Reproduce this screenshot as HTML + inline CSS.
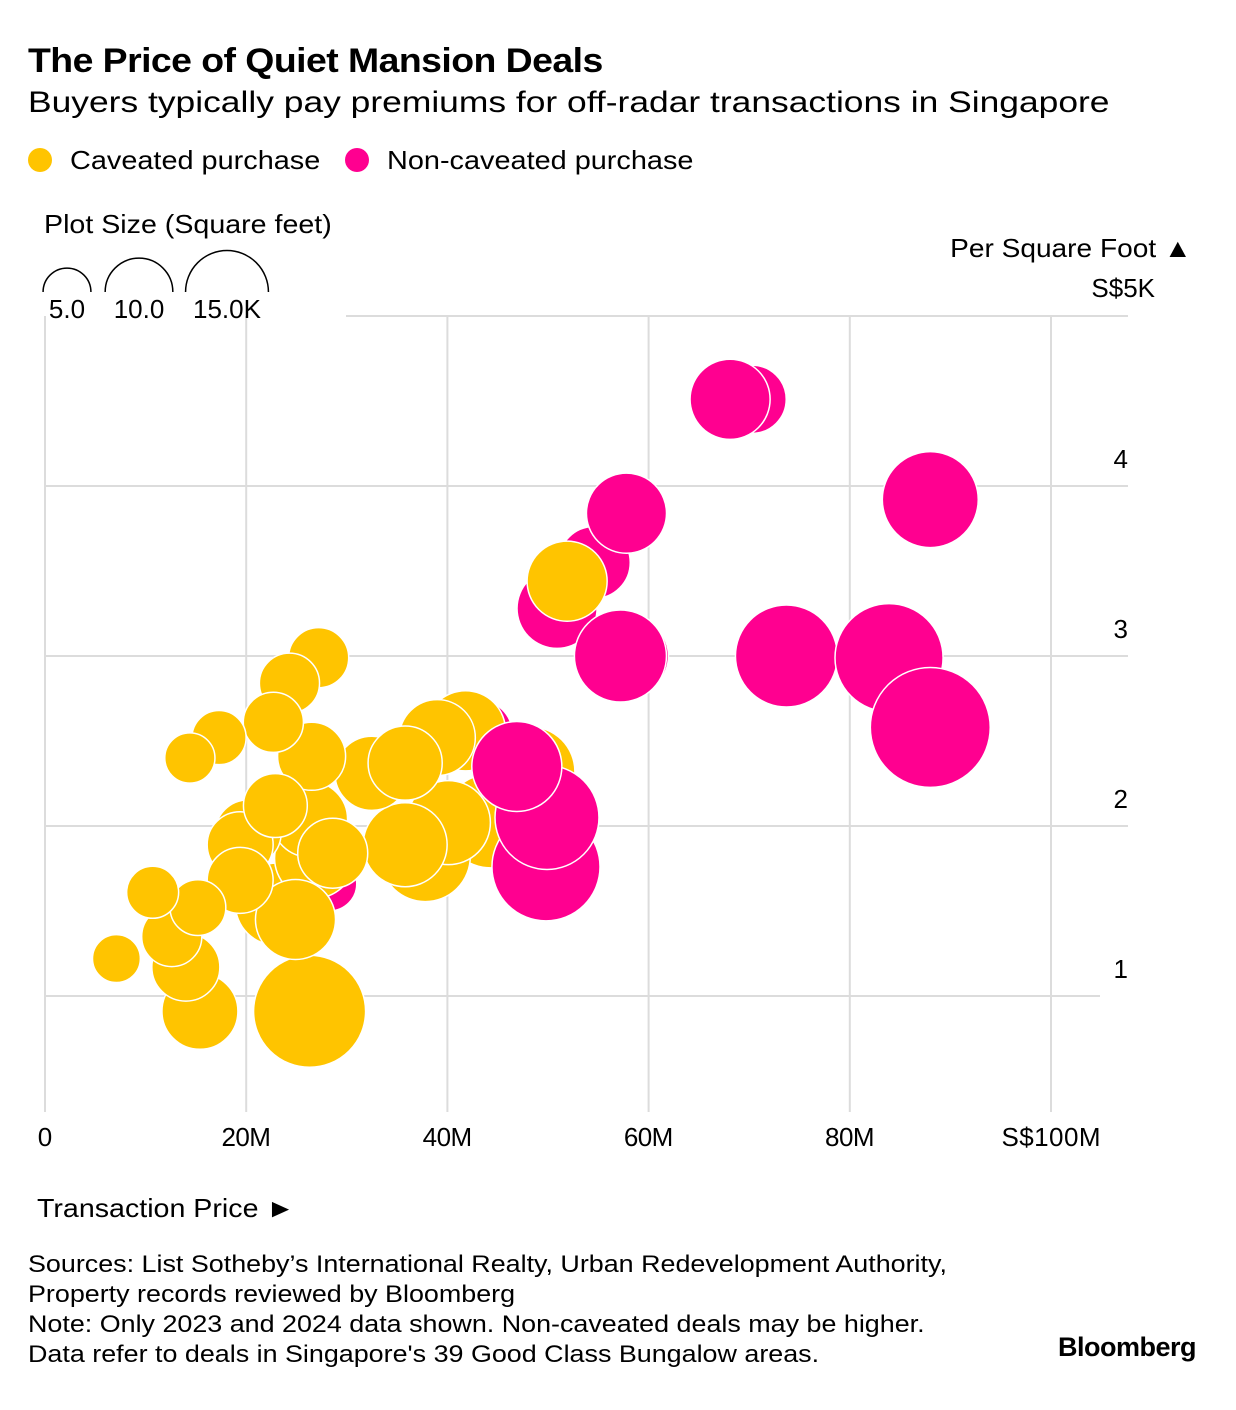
<!DOCTYPE html>
<html><head><meta charset="utf-8"><style>
body{margin:0;background:#fff;font-family:"Liberation Sans",sans-serif;color:#000}
#wrap{position:relative;width:1236px;height:1410px;overflow:hidden}
.t{position:absolute;white-space:nowrap;transform-origin:0 0}
.r{transform-origin:100% 0}
</style></head><body>
<div id="wrap">
<div class="t" style="left:28px;top:42px;font-size:34px;font-weight:bold;letter-spacing:-0.5px;transform:scaleX(1.1)">The Price of Quiet Mansion Deals</div>
<div class="t" style="left:28px;top:86px;font-size:30px;transform:scaleX(1.18)">Buyers typically pay premiums for off-radar transactions in Singapore</div>
<div class="t" style="left:28px;top:145px;font-size:26px"><span style="display:inline-block;width:24px;height:24px;border-radius:50%;background:#ffc400;vertical-align:-3px;margin-right:18px"></span><span style="display:inline-block;transform:scaleX(1.11);transform-origin:0 0">Caveated purchase</span></div>
<div class="t" style="left:345px;top:145px;font-size:26px"><span style="display:inline-block;width:24px;height:24px;border-radius:50%;background:#ff0090;vertical-align:-3px;margin-right:18px"></span><span style="display:inline-block;transform:scaleX(1.11);transform-origin:0 0">Non-caveated purchase</span></div>
<div class="t" style="left:44px;top:209px;font-size:26px;transform:scaleX(1.1)">Plot Size (Square feet)</div>
<div class="t r" style="right:44px;top:233px;font-size:26px;transform:scaleX(1.08)">Per Square Foot ▲</div>
<div class="t" style="left:37px;top:1193px;font-size:26px;transform:scaleX(1.1)">Transaction Price ►</div>
<div class="t" style="left:28px;top:1250px;font-size:24px;line-height:30px;transform:scaleX(1.12)">Sources: List Sotheby’s International Realty, Urban Redevelopment Authority,<br>Property records reviewed by Bloomberg<br>Note: Only 2023 and 2024 data shown. Non-caveated deals may be higher.<br>Data refer to deals in Singapore's 39 Good Class Bungalow areas.</div>
<div class="t r" style="right:40px;top:1332px;font-size:27px;font-weight:bold;letter-spacing:-0.5px">Bloomberg</div>
<svg id="svg" width="1236" height="1410" style="position:absolute;left:0;top:0"></svg>
</div>
<script>
const xTicks=[0,20,40,60,80,100];
const xTickLabels=["0","20M","40M","60M","80M","S$100M"];
const yTicks=[1,2,3,4,5];
const yTickLabels=["1","2","3","4","S$5K"];
const sizeLegend=[5,10,15];
const sizeLegendLabels=["5.0","10.0","15.0K"];
const pinkPrice=[70.3,68.1,88.0,57.8,54.6,50.9,58.0,57.2,73.7,83.9,88.0,43.0,46.9,49.9,49.8,28.3];
const pinkPsf=[4.51,4.51,3.92,3.84,3.55,3.28,3.0,3.0,3.0,2.99,2.58,2.54,2.35,2.05,1.76,1.66];
const pinkSize=[10.1,14.0,20.1,14.0,11.3,14.0,14.0,18.5,22.7,25.5,31.4,10.7,17.7,23.6,25.5,6.4];
const yelPrice=[51.9,27.2,24.3,22.7,17.3,14.4,26.5,32.5,35.8,39.0,41.8,48.2,44.3,40.1,37.8,35.8,26.3,22.9,20.2,19.4,26.8,28.6,19.4,15.2,10.7,12.6,14.0,15.4,7.1,23.0,24.9,26.3];
const yelPsf=[3.44,2.99,2.84,2.61,2.52,2.40,2.41,2.31,2.37,2.52,2.56,2.32,2.03,2.02,1.82,1.89,2.04,2.12,1.96,1.89,1.81,1.84,1.68,1.52,1.61,1.35,1.17,0.91,1.22,1.54,1.45,0.91];
const yelSize=[14.0,7.9,7.9,7.9,6.4,5.5,10.1,12.0,12.0,12.6,14.0,17.7,19.3,15.4,17.7,15.4,12.6,8.9,9.5,9.5,14.0,10.7,9.5,6.8,5.9,7.9,10.1,12.6,5.0,14.7,14.0,27.4];

const NS="http://www.w3.org/2000/svg";
const svg=document.getElementById('svg');
const X=v=>45+v*10.06;
const Y=v=>996-(v-1)*170;
const R=s=>10.7*Math.sqrt(s);
function mk(tag,attrs){const e=document.createElementNS(NS,tag);for(const k in attrs)e.setAttribute(k,attrs[k]);svg.appendChild(e);return e;}
xTicks.forEach((t,i)=>{
  const l=mk('line',{x1:X(t),x2:X(t),y1:316,y2:1112,stroke:'#dcdcdc','stroke-width':2});
  
  
  const tx=mk('text',{x:X(t),y:1146,'font-size':26,'text-anchor':'middle','font-family':'Liberation Sans, sans-serif',textLength:xTickLabels[i].length>1?xTickLabels[i].length*16.5:16});
  tx.textContent=xTickLabels[i];
  
  
});
yTicks.forEach((t,i)=>{
  const l=mk('line',{x1:t===5?346:45,x2:t===1?1100:1128,y1:Y(t),y2:Y(t),stroke:'#dcdcdc','stroke-width':2});
  
  
  const tx=mk('text',{x:t===5?1155:1128,y:t===5?Y(t)-19:Y(t)-18,'font-size':26,'text-anchor':'end','font-family':'Liberation Sans, sans-serif'});
  tx.textContent=yTickLabels[i];
  
  
});
const back=[],front=[],yel=[];
pinkPrice.forEach((p,i)=>{const d={x:pinkPrice[i],y:pinkPsf[i],s:pinkSize[i],c:'#ff0090',n:'bubble-non-caveated'};(d.s>=17&&d.x<60?front:back).push(d);});
yelPrice.forEach((p,i)=>yel.push({x:yelPrice[i],y:yelPsf[i],s:yelSize[i],c:'#ffc400',n:'bubble-caveated'}));
back.sort((a,b)=>a.s-b.s);
yel.sort((a,b)=>b.s-a.s);
front.sort((a,b)=>b.s-a.s);
back.concat(yel,front).forEach(d=>{
  const c=mk('circle',{cx:X(d.x),cy:Y(d.y),r:R(d.s),fill:d.c,stroke:'#fff','stroke-width':1.5});
  
  
});
const lx=[67,139,227];
sizeLegend.forEach((s,i)=>{
  const r=R(s),cx=lx[i],cy=292;
  const p=mk('path',{d:`M${cx-r},${cy} A${r},${r} 0 0 1 ${cx+r},${cy}`,fill:'none',stroke:'#000','stroke-width':1.5});
  
  
  const tx=mk('text',{x:cx,y:318,'font-size':26,'text-anchor':'middle','font-family':'Liberation Sans, sans-serif'});
  tx.textContent=sizeLegendLabels[i];
  
  
});
</script>
</body></html>
